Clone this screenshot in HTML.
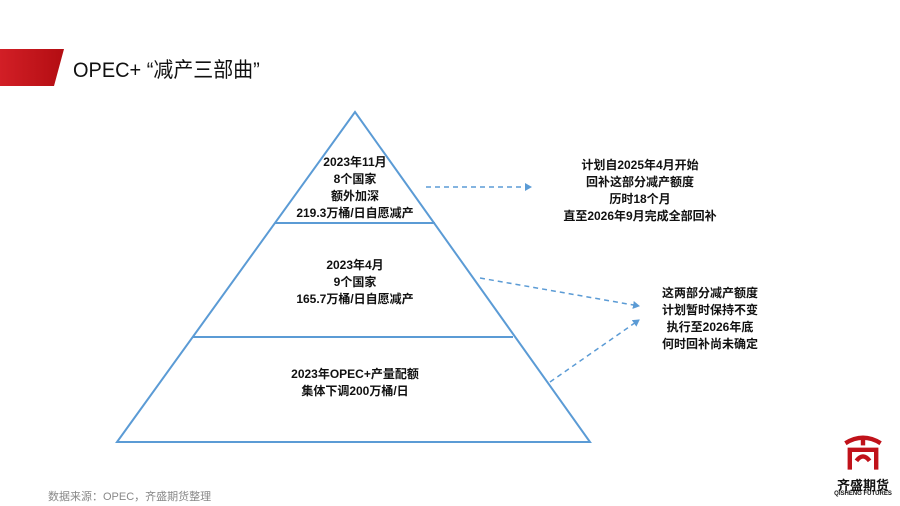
<!DOCTYPE html>
<html><head><meta charset="utf-8"><style>
body{margin:0;width:900px;height:506px;background:#fff;overflow:hidden;position:relative;font-family:"Liberation Sans","Noto Sans CJK SC",sans-serif}
.t{position:absolute;text-align:center;font-weight:bold;font-size:12px;line-height:17px;color:#111;white-space:nowrap}
</style></head><body>
<svg width="900" height="506" style="position:absolute;left:0;top:0">
<defs><linearGradient id="g" x1="0" x2="1"><stop offset="0" stop-color="#d21f26"/><stop offset="1" stop-color="#b30d12"/></linearGradient>
<marker id="a" markerWidth="8" markerHeight="8" refX="6" refY="4" orient="auto" markerUnits="userSpaceOnUse"><path d="M0,0 L7,4 L0,8 z" fill="#5b9bd5"/></marker></defs>
<polygon points="0,49 64,49 54,86 0,86" fill="url(#g)"/>
<polygon points="355,112 117,442 590,442" fill="none" stroke="#5b9bd5" stroke-width="2"/>
<line x1="275" y1="223" x2="435" y2="223" stroke="#5b9bd5" stroke-width="2"/>
<line x1="193" y1="337" x2="513" y2="337" stroke="#5b9bd5" stroke-width="2"/>
<g stroke="#5b9bd5" stroke-width="1.5" stroke-dasharray="5,4" fill="none">
<line x1="426" y1="187" x2="531" y2="187" marker-end="url(#a)"/>
<line x1="480" y1="278" x2="639" y2="306" marker-end="url(#a)"/>
<line x1="550" y1="382" x2="639" y2="320" marker-end="url(#a)"/>
</g>
</svg>
<div style="position:absolute;left:73px;top:54px;font-size:21px;color:#111;transform:scaleX(0.95);transform-origin:left">OPEC+ “减产三部曲”</div>
<div class="t" style="left:255px;width:200px;top:154px">2023年11月<br>8个国家<br>额外加深<br>219.3万桶/日自愿减产</div>
<div class="t" style="left:255px;width:200px;top:257px">2023年4月<br>9个国家<br>165.7万桶/日自愿减产</div>
<div class="t" style="left:255px;width:200px;top:366px">2023年OPEC+产量配额<br>集体下调200万桶/日</div>
<div class="t" style="left:540px;width:200px;top:157px">计划自2025年4月开始<br>回补这部分减产额度<br>历时18个月<br>直至2026年9月完成全部回补</div>
<div class="t" style="left:640px;width:140px;top:285px">这两部分减产额度<br>计划暂时保持不变<br>执行至2026年底<br>何时回补尚未确定</div>
<div style="position:absolute;left:48px;top:488px;font-size:11px;color:#888">数据来源：OPEC，齐盛期货整理</div>
<svg width="44" height="40" style="position:absolute;left:841px;top:432px" viewBox="0 0 40 36">
<g fill="none" stroke="#c0121a" stroke-width="4">
<path d="M4,10 Q20,0 36,10"/><path d="M8,34 V16 H32 V34"/><path d="M14,26 Q20,18 26,26"/><path d="M20,4 V12"/>
</g></svg>
<div style="position:absolute;left:826px;top:475px;width:74px;text-align:center;font-size:13px;font-weight:bold;color:#111">齐盛期货</div>
<div style="position:absolute;left:826px;top:491px;width:74px;text-align:center;font-size:6px;font-weight:bold;color:#111">QISHENG FUTURES</div>
</body></html>
